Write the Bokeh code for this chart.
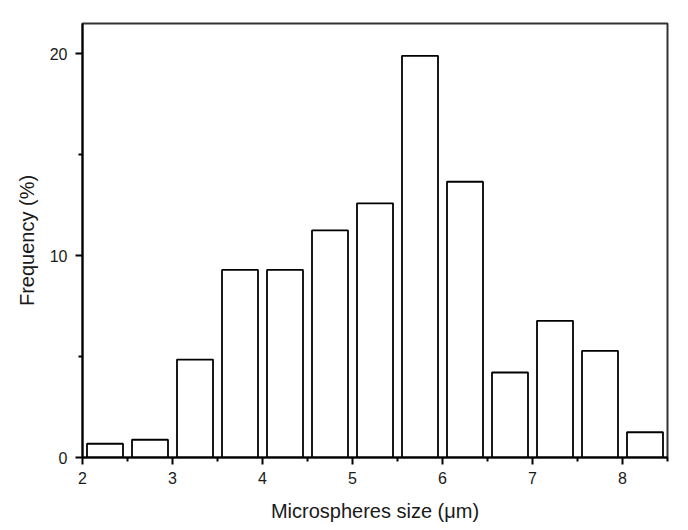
from bokeh.plotting import figure
from bokeh.models import Range1d, FixedTicker
from bokeh.embed import file_html
from bokeh.resources import INLINE

# Data
bin_centers = [2.25, 2.75, 3.25, 3.75, 4.25, 4.75, 5.25, 5.75, 6.25, 6.75, 7.25, 7.75, 8.25]
frequency = [0.68, 0.88, 4.85, 9.29, 9.29, 11.25, 12.59, 19.9, 13.66, 4.21, 6.77, 5.28, 1.25]
x_ticks = [2, 3, 4, 5, 6, 7, 8]
y_ticks = [0, 10, 20]

p = figure(width=688, height=530, output_backend="svg", toolbar_location=None,
           x_range=Range1d(2, 8.5), y_range=Range1d(0, 21.5),
           min_border_left=82, min_border_right=21, min_border_top=23, min_border_bottom=73)

p.vbar(x=bin_centers, top=frequency, bottom=0, width=0.4,
       fill_color="white", line_color="black", line_width=1.8)

p.xgrid.visible = False
p.ygrid.visible = False
p.outline_line_color = "#333333"
p.outline_line_width = 2
p.background_fill_color = "white"
p.border_fill_color = "white"

p.xaxis.ticker = FixedTicker(ticks=x_ticks, minor_ticks=[2.5, 3.5, 4.5, 5.5, 6.5, 7.5, 8.5])
p.yaxis.ticker = FixedTicker(ticks=y_ticks, minor_ticks=[5, 15])

for ax in (p.xaxis[0], p.yaxis[0]):
    ax.axis_line_width = 2
    ax.axis_line_color = "black"
    ax.major_tick_line_width = 2
    ax.minor_tick_line_width = 2
    ax.major_tick_line_color = "black"
    ax.minor_tick_line_color = "black"
    ax.major_tick_out = 7
    ax.major_tick_in = 0
    ax.minor_tick_out = 4
    ax.minor_tick_in = 0
    ax.major_label_text_font = "Liberation Sans"
    ax.major_label_text_font_size = "16px"
    ax.major_label_text_color = "#1a1a1a"
    ax.axis_label_text_font = "Liberation Sans"
    ax.axis_label_text_font_size = "20px"
    ax.axis_label_text_font_style = "normal"
    ax.axis_label_text_color = "#1a1a1a"

p.xaxis.axis_label = "Microspheres size (μm)"
p.yaxis.axis_label = "Frequency (%)"
p.xaxis.major_label_standoff = 7
p.yaxis.major_label_standoff = 8
p.xaxis.axis_label_standoff = 13
p.yaxis.axis_label_standoff = 9

open("out.html", "w").write(file_html(p, INLINE))
